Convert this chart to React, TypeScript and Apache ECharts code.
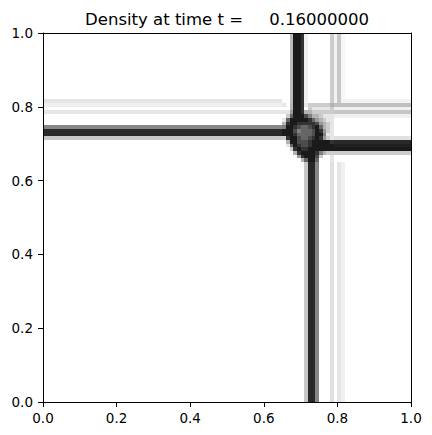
import React, { useEffect, useRef } from 'react';
import * as echarts from 'echarts';

const TITLE = 'Density at time t =     0.16000000';
const N = 100; // cells per side of the density grid
const CELL = 1 / N;

// Left horizontal band (cols 0..64): row index -> darkness (0 white, 1 black)
const LEFT_COLS = [0, 64];
const LEFT_ROWS = [71, 72, 73, 74, 78, 79, 80, 81];
const LEFT_VALS = [0.22, 0.84, 0.84, 0.47, 0.1, 0, 0.06, 0.1];

// Bottom vertical band (rows 0..64): col index -> darkness
const BOTTOM_ROWS = [0, 64];
const BOTTOM_COLS = [71, 72, 73, 74, 78, 79, 80, 81];
const BOTTOM_VALS = [0.22, 0.84, 0.84, 0.47, 0.12, 0, 0.1, 0.06];

// Top vertical band (rows 81..99)
const TOP_ROWS = [81, 99];
const TOP_COLS = [67, 68, 69, 70, 71, 78, 79, 80, 81];
const TOP_VALS = [0.27, 0.9, 0.9, 0.8, 0.06, 0.2, 0.05, 0.22, 0.03];

// Right horizontal band (cols 79..99)
const RIGHT_COLS = [79, 99];
const RIGHT_ROWS = [67, 68, 69, 70, 71, 77, 78, 79, 80, 81];
const RIGHT_VALS = [0.2, 0.9, 0.87, 0.84, 0.12, 0.06, 0.22, 0.06, 0.25, 0.05];

// Junction patch: cols 65..78, rows 80 (first string) down to 65; digit = darkness*10
const PATCH_COL0 = 65;
const PATCH_ROW_TOP = 80;
const PATCH = [
  '10399812222223',
  '00399802111112',
  '11499833222222',
  '02699975332111',
  '16999998643211',
  '38998888874321',
  '59987667896321',
  '99975666798421',
  '99986666799511',
  '28997667898421',
  '03997778999998',
  '01698778999999',
  '00289889999999',
  '00038999985322',
  '00004899972001',
  '00000369960001',
];

function buildCells(): number[][] {
  const g: number[][] = [];
  for (let r = 0; r < N; r++) g.push(new Array(N).fill(0));
  const put = (c: number, r: number, v: number) => {
    g[r][c] = Math.max(g[r][c], v);
  };
  for (let c = LEFT_COLS[0]; c <= LEFT_COLS[1]; c++)
    LEFT_ROWS.forEach((r, i) => put(c, r, LEFT_VALS[i]));
  for (let r = BOTTOM_ROWS[0]; r <= BOTTOM_ROWS[1]; r++)
    BOTTOM_COLS.forEach((c, i) => put(c, r, BOTTOM_VALS[i]));
  for (let r = TOP_ROWS[0]; r <= TOP_ROWS[1]; r++)
    TOP_COLS.forEach((c, i) => put(c, r, TOP_VALS[i]));
  for (let c = RIGHT_COLS[0]; c <= RIGHT_COLS[1]; c++)
    RIGHT_ROWS.forEach((r, i) => put(c, r, RIGHT_VALS[i]));
  PATCH.forEach((row, k) => {
    const r = PATCH_ROW_TOP - k;
    for (let j = 0; j < row.length; j++) g[r][PATCH_COL0 + j] = Number(row[j]) / 10;
  });
  const data: number[][] = [];
  for (let r = 0; r < N; r++)
    for (let c = 0; c < N; c++) if (g[r][c] > 0) data.push([c * CELL, r * CELL, g[r][c]]);
  return data;
}

const FONT = 'DejaVu Sans';

export default function App() {
  const ref = useRef<HTMLDivElement>(null);
  useEffect(() => {
    if (!ref.current) return;
    const chart = echarts.init(ref.current, undefined, { renderer: 'svg' });
    const data = buildCells();
    const axisCommon = {
      type: 'value' as const,
      min: 0,
      max: 1,
      interval: 0.2,
      splitLine: { show: false },
      z: 10,
    };
    chart.setOption({
      animation: false,
      backgroundColor: '#ffffff',
      grid: { left: 43, right: 21, top: 33, bottom: 33, containLabel: false },
      visualMap: {
        type: 'continuous',
        show: false,
        min: 0,
        max: 1,
        dimension: 2,
        seriesIndex: 0,
        inRange: { color: ['#ffffff', '#000000'] },
      },
      graphic: [
        {
          type: 'text',
          x: 227,
          y: 19,
          style: {
            text: TITLE,
            fill: '#000',
            fontSize: 16.5,
            fontFamily: FONT,
            align: 'center',
            verticalAlign: 'middle',
          },
        },
      ],
      xAxis: [
        {
          ...axisCommon,
          position: 'bottom',
          axisLine: { show: true, onZero: false, lineStyle: { color: '#000', width: 1 } },
          axisTick: { show: true, inside: false, length: 5, lineStyle: { color: '#000' } },
          axisLabel: {
            margin: 9,
            color: '#000',
            fontSize: 13.5,
            fontFamily: FONT,
            formatter: (v: number) => v.toFixed(1),
          },
        },
        {
          ...axisCommon,
          position: 'top',
          axisLine: { show: true, onZero: false, lineStyle: { color: '#000', width: 1 } },
          axisTick: { show: false },
          axisLabel: { show: false },
        },
      ],
      yAxis: [
        {
          ...axisCommon,
          position: 'left',
          axisLine: { show: true, onZero: false, lineStyle: { color: '#000', width: 1 } },
          axisTick: { show: true, inside: false, length: 5, lineStyle: { color: '#000' } },
          axisLabel: {
            margin: 10,
            color: '#000',
            fontSize: 13.5,
            fontFamily: FONT,
            formatter: (v: number) => v.toFixed(1),
          },
        },
        {
          ...axisCommon,
          position: 'right',
          axisLine: { show: true, onZero: false, lineStyle: { color: '#000', width: 1 } },
          axisTick: { show: false },
          axisLabel: { show: false },
        },
      ],
      series: [
        {
          type: 'custom',
          xAxisIndex: 0,
          yAxisIndex: 0,
          encode: { x: 0, y: 1 },
          data,
          clip: true,
          renderItem: (params: any, api: any) => {
            const x = api.value(0);
            const y = api.value(1);
            const p0 = api.coord([x, y + CELL]);
            const p1 = api.coord([x + CELL, y]);
            const x0 = Math.round(p0[0]);
            const y0 = Math.round(p0[1]);
            const x1 = Math.round(p1[0]);
            const y1 = Math.round(p1[1]);
            return {
              type: 'rect',
              shape: { x: x0, y: y0, width: x1 - x0, height: y1 - y0 },
              style: { fill: api.visual('color'), stroke: null, lineWidth: 0 },
            };
          },
        },
      ],
    });
    return () => chart.dispose();
  }, []);
  return (
    <div
      ref={ref}
      style={{ position: 'absolute', left: 0, top: 0, width: 432, height: 435 }}
    />
  );
}
